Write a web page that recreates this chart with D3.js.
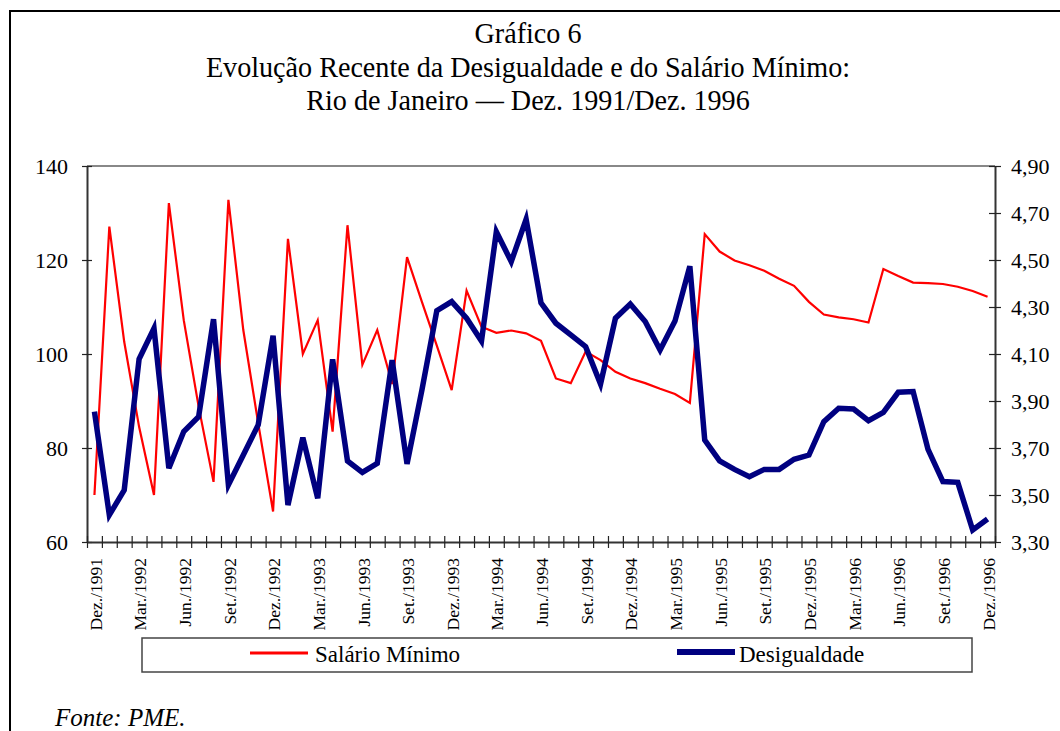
<!DOCTYPE html>
<meta charset="utf-8">
<script src="https://cdn.jsdelivr.net/npm/d3@7"></script>
<style>
  body { margin: 0; background: #fff; }
</style>
<body>
<div id="chart"></div>
<script>
  // monthly values, Dez./1991 .. Dez./1996 (61 months)
  var salario = [70, 127.1, 102.6, 84.5, 70, 132.1, 107.2, 88.8, 72.8, 132.8,
                 105.1, 85.3, 66.5, 124.5, 100, 107.2, 83.5, 127.4, 97.7, 105.1,
                 93.6, 120.6, 111.1, 101.8, 92.3, 113.5, 105.8, 104.5, 105, 104.4,
                 102.8, 94.8, 93.8, 100.5, 98.7, 96.2, 94.8, 93.8, 92.6, 91.5,
                 89.6, 125.5, 121.8, 119.9, 118.9, 117.7, 116, 114.5, 111.1, 108.4,
                 107.8, 107.4, 106.7, 118.1, 116.6, 115.2, 115.1, 114.9, 114.3, 113.4,
                 112.2];
  var desigualdade = [3.855, 3.415, 3.521, 4.079, 4.209, 3.614, 3.77, 3.833, 4.248, 3.543,
                      3.67, 3.798, 4.178, 3.457, 3.744, 3.486, 4.077, 3.645, 3.596, 3.635,
                      4.074, 3.632, 3.947, 4.284, 4.323, 4.252, 4.155, 4.62, 4.493, 4.673,
                      4.318, 4.231, 4.181, 4.131, 3.972, 4.252, 4.313, 4.238, 4.117, 4.24,
                      4.474, 3.734, 3.645, 3.609, 3.578, 3.609, 3.609, 3.652, 3.67, 3.812,
                      3.869, 3.866, 3.816, 3.852, 3.937, 3.94, 3.694, 3.557, 3.554, 3.351,
                      3.398];
  var tickLabels = ["Dez./1991", "Mar./1992", "Jun./1992", "Set./1992", "Dez./1992",
                    "Mar./1993", "Jun./1993", "Set./1993", "Dez./1993", "Mar./1994",
                    "Jun./1994", "Set./1994", "Dez./1994", "Mar./1995", "Jun./1995",
                    "Set./1995", "Dez./1995", "Mar./1996", "Jun./1996", "Set./1996",
                    "Dez./1996"];
  var leftTicks = [60, 80, 100, 120, 140];
  var rightTicks = [3.3, 3.5, 3.7, 3.9, 4.1, 4.3, 4.5, 4.7, 4.9];
  var titleLines = ["Gráfico 6",
                    "Evolução Recente da Desigualdade e do Salário Mínimo:",
                    "Rio de Janeiro — Dez. 1991/Dez. 1996"];

  var W = 1060, H = 731;
  var plot = {left: 87, right: 995, top: 166, bottom: 542};
  var serif = "'Liberation Serif', Tinos, 'Times New Roman', Times, 'DejaVu Serif', serif";

  var svg = d3.select("#chart").append("svg")
      .attr("width", W).attr("height", H)
      .style("font-family", serif);

  // outer frame (only left and top visible)
  svg.append("rect")
      .attr("x", 10).attr("y", 11)
      .attr("width", W + 20).attr("height", H + 20)
      .style("fill", "none").style("stroke", "#000").style("stroke-width", 2);

  svg.selectAll(".title").data(titleLines).enter().append("text")
      .attr("transform", function(d, i) {
        return "translate(528," + (43 + i * 33.5) + ") scale(0.97,1.05)";
      })
      .attr("text-anchor", "middle")
      .style("font-family", serif)
      .style("font-size", "29px")
      .text(function(d) { return d; });

  var n = salario.length;
  var x = d3.scaleLinear().domain([0, n]).range([plot.left, plot.right]);
  var yL = d3.scaleLinear().domain([60, 140]).range([plot.bottom, plot.top]);
  var yR = d3.scaleLinear().domain([3.3, 4.9]).range([plot.bottom, plot.top]);

  // plot border (top, gray)
  svg.append("line")
      .attr("x1", plot.left).attr("x2", plot.right)
      .attr("y1", plot.top).attr("y2", plot.top)
      .style("stroke", "#888").style("stroke-width", 2);

  // left axis
  var gl = svg.append("g").attr("transform", "translate(" + plot.left + ",0)")
      .call(d3.axisLeft(yL).tickValues(leftTicks).tickSizeInner(6).tickSizeOuter(0).tickPadding(13));
  gl.selectAll("line").attr("x2", -5).attr("x1", 5);

  // right axis
  var fmt = function(d) { return d3.format(".2f")(d).replace(".", ","); };
  var gr = svg.append("g").attr("transform", "translate(" + plot.right + ",0)")
      .call(d3.axisRight(yR).tickValues(rightTicks).tickFormat(fmt).tickSizeInner(6).tickSizeOuter(0).tickPadding(10));
  gr.selectAll("line").attr("x1", -6).attr("x2", 6);

  // bottom axis, ticks on month boundaries
  var gb = svg.append("g").attr("transform", "translate(0," + plot.bottom + ")")
      .call(d3.axisBottom(x).tickValues(d3.range(0, n + 1)).tickFormat("").tickSizeInner(6).tickSizeOuter(0));
  gb.selectAll("line").attr("y1", -6).attr("y2", 6);

  [gl, gr, gb].forEach(function(g) {
    g.attr("font-family", null).attr("font-size", null);
    g.select(".domain").style("stroke", "#333").style("stroke-width", 2);
    g.selectAll("line").style("stroke", "#222").style("stroke-width", 1.2);
    g.selectAll("text").style("font-family", serif)
        .style("font-size", "22px").style("fill", "#000");
  });

  svg.selectAll(".xlab").data(tickLabels).enter().append("text")
      .attr("transform", function(d, i) {
        return "translate(" + (x(i * 3 + 0.5) + 1) + ",558) rotate(-90)";
      })
      .attr("dy", "0.35em")
      .attr("text-anchor", "end")
      .style("font-family", serif)
      .style("font-size", "17.5px")
      .text(function(d) { return d; });

  var lineL = d3.line()
      .x(function(d, i) { return x(i + 0.5); })
      .y(function(d) { return yL(d); });
  var lineR = d3.line()
      .x(function(d, i) { return x(i + 0.5); })
      .y(function(d) { return yR(d); });

  svg.append("path").datum(salario)
      .attr("d", lineL)
      .style("fill", "none").style("stroke", "#ff0000").style("stroke-width", 2.2)
      .style("stroke-linejoin", "miter");

  svg.append("path").datum(desigualdade)
      .attr("d", lineR)
      .style("fill", "none").style("stroke", "#000080").style("stroke-width", 5.5)
      .style("stroke-linejoin", "miter");

  // legend
  var lg = svg.append("g");
  lg.append("rect")
      .attr("x", 142).attr("y", 638).attr("width", 830).attr("height", 34)
      .style("fill", "#fff").style("stroke", "#444").style("stroke-width", 1.5);
  lg.append("line").attr("x1", 250).attr("x2", 308).attr("y1", 653).attr("y2", 653)
      .style("stroke", "#ff0000").style("stroke-width", 3);
  lg.append("text").attr("x", 315).attr("y", 662)
      .style("font-family", serif).style("font-size", "23px").text("Salário Mínimo");
  lg.append("line").attr("x1", 677).attr("x2", 735).attr("y1", 652).attr("y2", 652)
      .style("stroke", "#000080").style("stroke-width", 6);
  lg.append("text").attr("x", 739).attr("y", 662)
      .style("font-family", serif).style("font-size", "23px").text("Desigualdade");

  svg.append("text")
      .attr("x", 55).attr("y", 726)
      .style("font-family", serif)
      .style("font-size", "25px").style("font-style", "italic")
      .text("Fonte: PME.");
</script>
</body>
